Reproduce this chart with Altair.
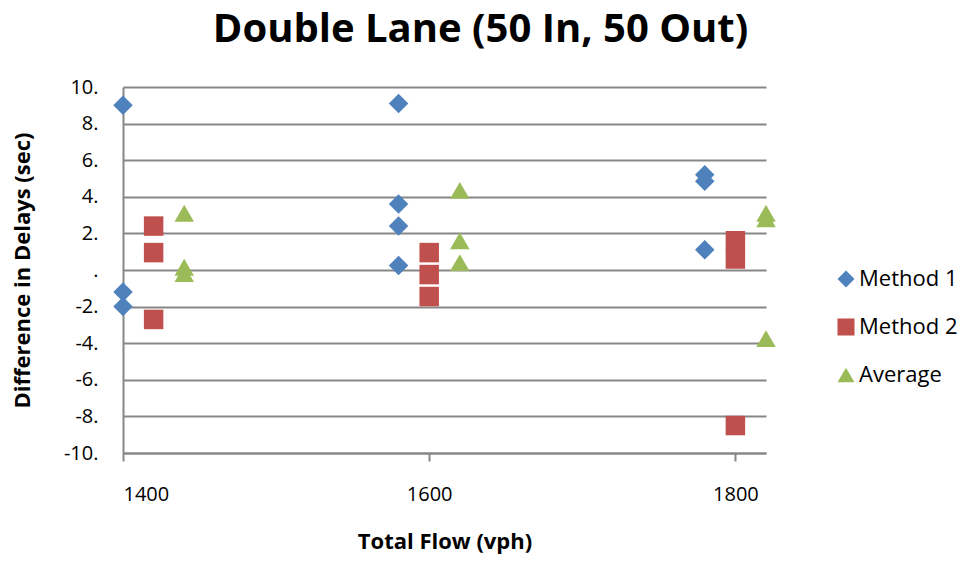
import altair as alt
import pandas as pd

series_names = ["Method 1", "Method 2", "Average"]
colors = ["#4F81BD", "#C0504D", "#9BBB59"]
shapes = ["diamond", "square", "triangle-up"]

m1_x = [1400, 1400, 1400, 1580, 1580, 1580, 1580, 1780, 1780, 1780]
m1_y = [9.0, -1.2, -2.0, 9.1, 3.6, 2.4, 0.25, 5.2, 4.85, 1.1]
m2_x = [1420, 1420, 1420, 1600, 1600, 1600, 1800, 1800, 1800]
m2_y = [2.4, 0.95, -2.7, 0.95, -0.25, -1.45, 1.6, 0.6, -8.5]
av_x = [1440, 1440, 1440, 1620, 1620, 1620, 1820, 1820, 1820]
av_y = [3.1, 0.15, -0.2, 4.35, 1.6, 0.4, 3.1, 2.8, -3.75]

y_ticks = [-10, -8, -6, -4, -2, 0, 2, 4, 6, 8, 10]
x_ticks = [1400, 1600, 1800]

rows = []
for name, xs, ys in zip(series_names, [m1_x, m2_x, av_x], [m1_y, m2_y, av_y]):
    for xv, yv in zip(xs, ys):
        rows.append({"flow": xv, "diff": yv, "series": name})
df = pd.DataFrame(rows)

FONT = "Open Sans"
GRID = "#878787"

chart = alt.Chart(df).mark_point(filled=True, opacity=1, size=380).encode(
    x=alt.X("flow:Q", scale=alt.Scale(domain=[1400, 1820], nice=False, zero=False),
            axis=alt.Axis(values=x_ticks, format="d", title="Total Flow (vph)", grid=False,
                          tickSize=8, tickColor=GRID, domainColor=GRID,
                          domainWidth=2, tickWidth=2,
                          labelFontSize=20, labelPadding=23, labelFont=FONT,
                          labelColor="#000000", titleFont=FONT, titleFontSize=22,
                          titleFontWeight="bold", titlePadding=27, titleColor="#000000")),
    y=alt.Y("diff:Q", scale=alt.Scale(domain=[-10, 10], nice=False),
            axis=alt.Axis(values=y_ticks, title="Difference in Delays (sec)",
                          labelExpr="datum.value == 0 ? '.' : datum.value + '.'",
                          ticks=False, grid=True, gridColor=GRID, gridWidth=2,
                          domainColor=GRID, domainWidth=2,
                          labelFontSize=20, labelPadding=25, labelFont=FONT,
                          labelColor="#000000", titleFont=FONT, titleFontSize=22,
                          titleFontWeight="bold", titlePadding=29, titleColor="#000000")),
    color=alt.Color("series:N", scale=alt.Scale(domain=series_names, range=colors),
                    legend=alt.Legend(title=None, orient="none", legendX=712, legendY=181,
                                      padding=0, labelFont=FONT, labelFontSize=22,
                                      labelColor="#000000", symbolSize=290,
                                      rowPadding=26, labelOffset=2)),
    shape=alt.Shape("series:N", scale=alt.Scale(domain=series_names, range=shapes)),
).properties(
    width=643, height=366,
    autosize=alt.AutoSizeParams(type="none"),
    padding={"left": 115, "top": 79, "right": 192, "bottom": 102},
    title=alt.TitleParams("Double Lane (50 In, 50 Out)", font=FONT, fontSize=40,
                          fontWeight="bold", color="#000000", anchor="middle",
                          frame="group", offset=27, dx=36),
).configure_view(stroke=None)

chart.save("out.html", embed_options={"renderer": "svg", "actions": False})
